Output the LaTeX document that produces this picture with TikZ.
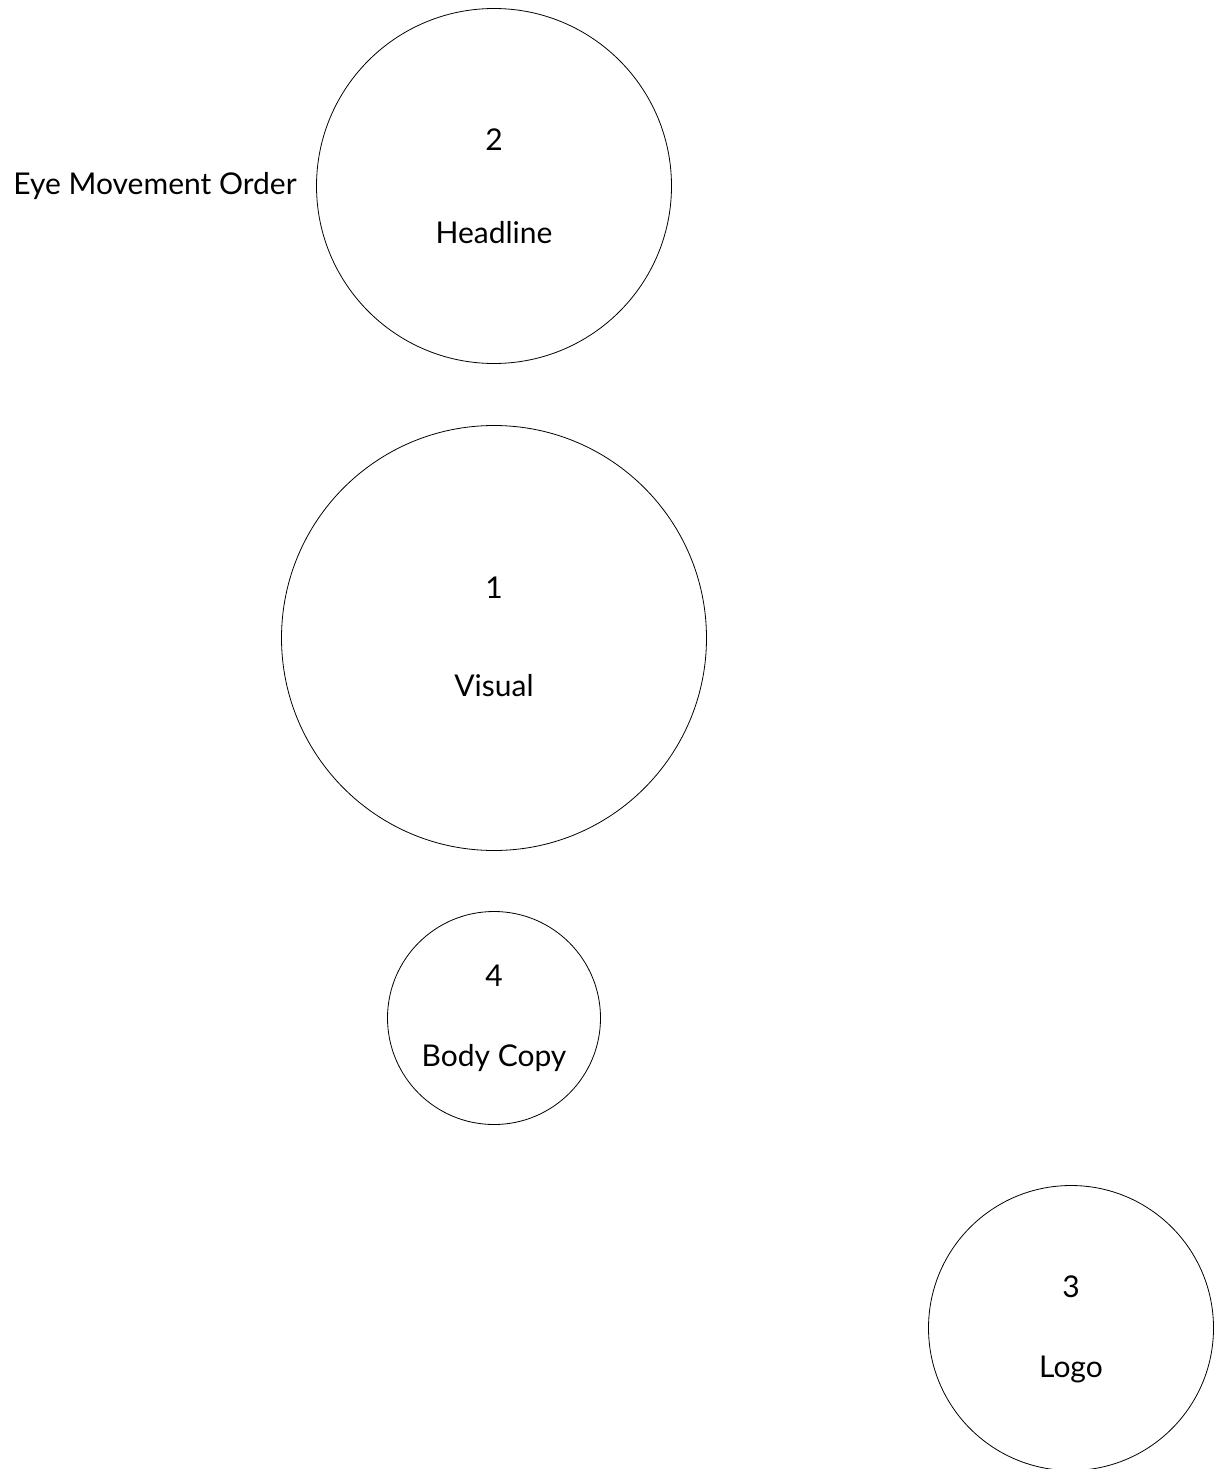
\documentclass[tikz,border=0pt]{standalone}
\usepackage{fontspec}
\setmainfont{Lato}
\tikzset{
  spot/.style={circle, draw=black, line width=0.8pt, minimum size=#1, inner sep=0},
  txt/.style={font=\fontsize{30}{36}\selectfont, text=black, inner sep=0},
}

\begin{document}
\begin{tikzpicture}[x=1pt, y=-1pt]
  \useasboundingbox (0,0) rectangle (1220,1469);
  \clip (0,0) rectangle (1220,1469);

  % ---- circles, one per element
  \node[spot=355pt] (head) at (494,186)  {};
  \node[spot=425pt] (vis)  at (494,638)  {};
  \node[spot=213pt] (body) at (494,1018) {};
  \node[spot=285pt] (logo) at (1071,1328) {};

  % ---- order numbers and labels
  \node[txt] (headn) at (494,140)  {2};
  \node[txt] (headl) at (494,233)  {Headline};
  \node[txt] (visn)  at (494,588)  {1};
  \node[txt] (visl)  at (494,686)  {Visual};
  \node[txt] (bodyn) at (494,976)  {4};
  \node[txt] (bodyl) at (494,1058) {Body Copy};
  \node[txt] (logon) at (1071,1287) {3};
  \node[txt] (logol) at (1071,1369) {Logo};

  % ---- caption
  \node[txt] (cap) at (155,186) {Eye Movement Order};

\end{tikzpicture}
\end{document}
